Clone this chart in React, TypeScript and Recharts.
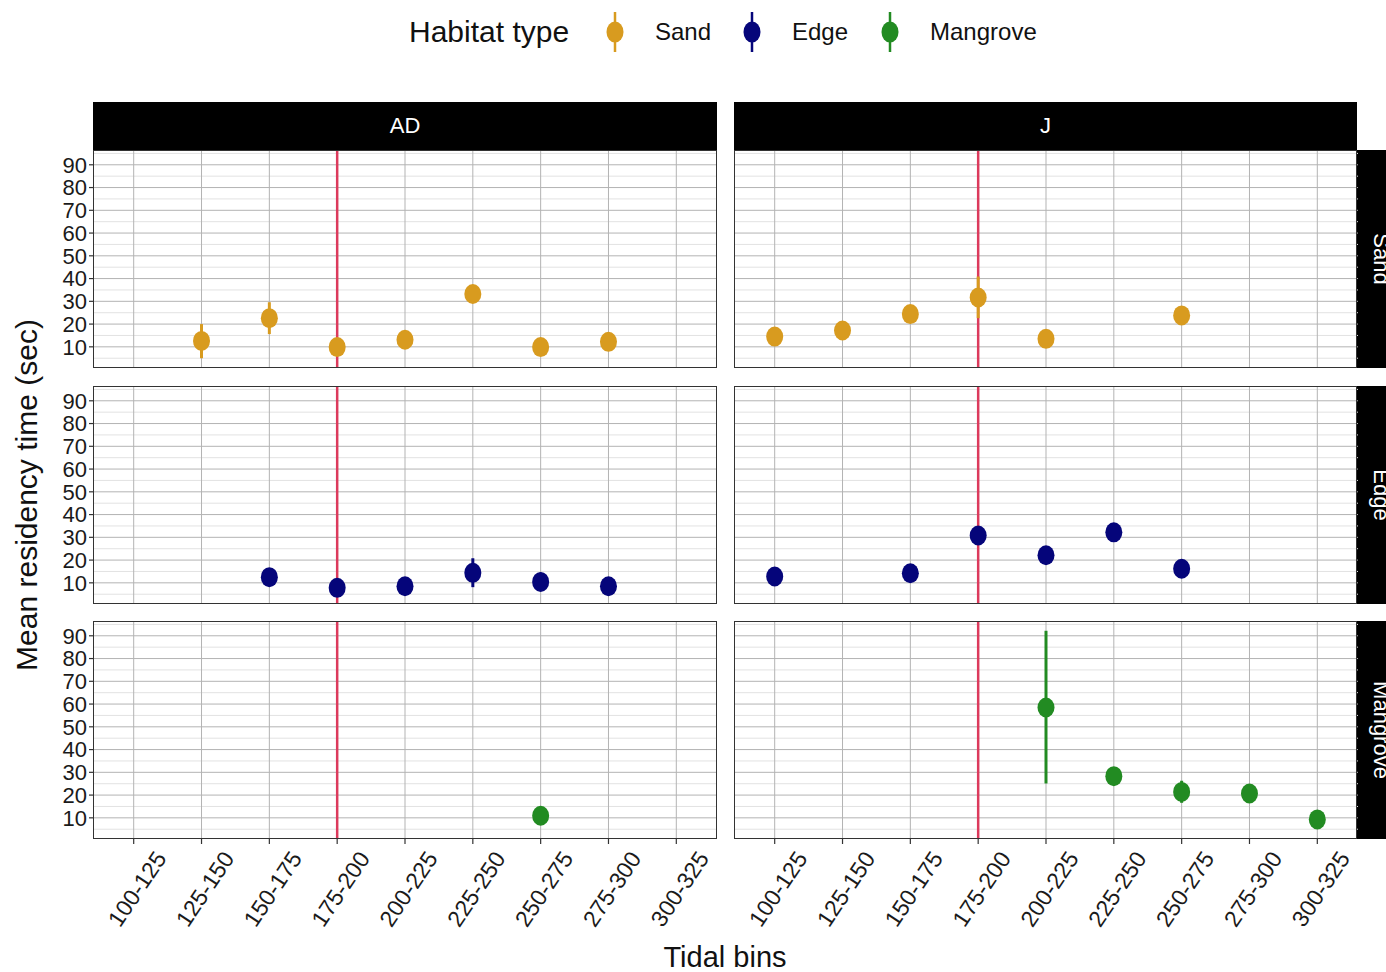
import React from 'react'
import { ScatterChart, Scatter, XAxis, YAxis, CartesianGrid, ErrorBar, ReferenceLine } from 'recharts'

const bins = ['100-125', '125-150', '150-175', '175-200', '200-225', '225-250', '250-275', '275-300', '300-325']
const yTicks = [10, 20, 30, 40, 50, 60, 70, 80, 90]
const yMinor = [5, 15, 25, 35, 45, 55, 65, 75, 85, 95]
const ageClasses = ['AD', 'J']
const habitats = ['Sand', 'Edge', 'Mangrove']

// mean residency per tidal bin (null = no data), plus lower / upper error bounds
const adSand = [null, 12.6, 22.6, 9.9, 13.1, 33.2, 9.9, 12.2, null]
const adSandLo = [null, 5, 15.6, 8, 10.5, 31, 8.5, 10.5, null]
const adSandHi = [null, 20, 29.6, 12, 15.5, 35.5, 11.3, 14, null]

const jSand = [14.5, 17.2, 24.4, 31.7, 13.5, null, 23.8, null, null]
const jSandLo = [13, 15.5, 22.5, 22.6, 12, null, 21.5, null, null]
const jSandHi = [16, 19, 26.5, 40.9, 15, null, 26, null, null]

const adEdge = [null, null, 12.5, 7.8, 8.5, 14.4, 10.4, 8.5, null]
const adEdgeLo = [null, null, 10.5, 6, 6.8, 8.1, 6.5, 6.8, null]
const adEdgeHi = [null, null, 14.5, 9.6, 10.2, 20.8, 14.5, 10.2, null]

const jEdge = [12.8, null, 14.2, 30.8, 22.1, 32.2, 16.2, null, null]
const jEdgeLo = [11, null, 12.3, 28.5, 20, 30, 14, null, null]
const jEdgeHi = [14.5, null, 16, 33, 24, 34.5, 18.5, null, null]

const adMangrove = [null, null, null, null, null, null, 10.9, null, null]
const adMangroveLo = [null, null, null, null, null, null, 9, null, null]
const adMangroveHi = [null, null, null, null, null, null, 12.8, null, null]

const jMangrove = [null, null, null, null, 58.5, 28.3, 21.4, 20.7, 9.3]
const jMangroveLo = [null, null, null, null, 25.1, 26, 16.6, 18.5, 7.5]
const jMangroveHi = [null, null, null, null, 92.2, 30.5, 26.3, 23, 11]

const colors: Record<string, string> = { Sand: '#d89b1f', Edge: '#05057a', Mangrove: '#228b22' }
const lineColor = '#dc3a5c'
const FONT = '"Liberation Sans", Arial, sans-serif'

type Row = (number | null)[]

function build(v: Row, lo: Row, hi: Row) {
  const out: { x: number; y: number; err: number[] }[] = []
  bins.forEach((_, i) => {
    const y = v[i]
    if (y == null) return
    out.push({ x: i + 1, y, err: [y - (lo[i] as number), (hi[i] as number) - y] })
  })
  return out
}

const panels: Record<string, ReturnType<typeof build>> = {
  'AD-Sand': build(adSand, adSandLo, adSandHi),
  'J-Sand': build(jSand, jSandLo, jSandHi),
  'AD-Edge': build(adEdge, adEdgeLo, adEdgeHi),
  'J-Edge': build(jEdge, jEdgeLo, jEdgeHi),
  'AD-Mangrove': build(adMangrove, adMangroveLo, adMangroveHi),
  'J-Mangrove': build(jMangrove, jMangroveLo, jMangroveHi),
}

const colLeft = [93, 734]
const colWidth = 624
const rowTop = [150, 386, 621]
const rowHeight = 218
const yAxisW = 50
const xAxisH = 110

function BinTick(props: any) {
  const { x, y, payload } = props
  return (
    <text
      transform={`translate(${x + 27},${y + 10}) rotate(-56)`}
      textAnchor="end"
      dominantBaseline="central"
      fontSize={23}
      fontFamily={FONT}
      fill="#1a1a1a"
    >
      {bins[payload.value - 1]}
    </text>
  )
}

function Panel({ col, row }: { col: number; row: number }) {
  const hab = habitats[row]
  const color = colors[hab]
  const data = panels[`${ageClasses[col]}-${hab}`]
  const showY = col === 0
  const showX = row === 2
  const w = colWidth + (showY ? yAxisW : 0)
  const h = rowHeight + (showX ? xAxisH : 0)
  return (
    <div style={{ position: 'absolute', left: colLeft[col] - (showY ? yAxisW : 0), top: rowTop[row] }}>
      <ScatterChart width={w} height={h} margin={{ top: 0, right: 0, bottom: 0, left: 0 }}>
        <CartesianGrid horizontalValues={yMinor} vertical={false} stroke="#e2e2e2" strokeWidth={1} />
        <CartesianGrid
          horizontalValues={yTicks}
          verticalValues={[1, 2, 3, 4, 5, 6, 7, 8, 9]}
          stroke="#b3b3b3"
          strokeWidth={1}
        />
        <XAxis
          type="number"
          dataKey="x"
          domain={[0.4, 9.6]}
          ticks={[1, 2, 3, 4, 5, 6, 7, 8, 9]}
          hide={!showX}
          height={xAxisH}
          axisLine={false}
          tickSize={5}
          tickMargin={0}
          tickLine={{ stroke: '#333', strokeWidth: 1.2 }}
          tick={<BinTick />}
          interval={0}
        />
        <YAxis
          type="number"
          dataKey="y"
          domain={[0.7, 96.5]}
          ticks={yTicks}
          hide={!showY}
          width={yAxisW}
          axisLine={false}
          tickSize={4}
          tickMargin={2}
          tickLine={{ stroke: '#333', strokeWidth: 1.2 }}
          tick={{ fontSize: 22, fill: '#1a1a1a', fontFamily: FONT }}
          interval={0}
        />
        <ReferenceLine x={4} stroke={lineColor} strokeWidth={2.5} />
        <Scatter
          data={data}
          dataKey="y"
          isAnimationActive={false}
          shape={(p: any) => <ellipse cx={p.cx} cy={p.cy} rx={8.5} ry={10} fill={color} />}
        >
          <ErrorBar dataKey="err" direction="y" width={0} stroke={color} strokeWidth={3} />
        </Scatter>
      </ScatterChart>
    </div>
  )
}

function LegendGlyph({ color }: { color: string }) {
  return (
    <svg width={20} height={40} style={{ display: 'block' }}>
      <line x1={10} x2={10} y1={0} y2={40} stroke={color} strokeWidth={2.5} />
      <ellipse cx={10} cy={20} rx={8.5} ry={10.5} fill={color} />
    </svg>
  )
}

export default function App() {
  const legendItems = [
    { name: 'Sand', glyph: 605, text: 655 },
    { name: 'Edge', glyph: 742, text: 792 },
    { name: 'Mangrove', glyph: 880, text: 930 },
  ]
  return (
    <div
      style={{
        position: 'absolute',
        left: 0,
        top: 0,
        width: 1386,
        height: 972,
        overflow: 'hidden',
        background: '#fff',
        fontFamily: FONT,
        color: '#111',
      }}
    >
      {/* legend */}
      <div style={{ position: 'absolute', left: 409, top: 13, fontSize: 30, lineHeight: '38px' }}>Habitat type</div>
      {legendItems.map((it) => (
        <React.Fragment key={it.name}>
          <div style={{ position: 'absolute', left: it.glyph, top: 12 }}>
            <LegendGlyph color={colors[it.name]} />
          </div>
          <div style={{ position: 'absolute', left: it.text, top: 16, fontSize: 24, lineHeight: '32px' }}>{it.name}</div>
        </React.Fragment>
      ))}

      {/* column strips */}
      {ageClasses.map((a, c) => (
        <div
          key={a}
          style={{
            position: 'absolute',
            left: colLeft[c],
            top: 102,
            width: c === 0 ? colWidth : colWidth - 1,
            height: 48,
            background: '#000',
            color: '#fff',
            fontSize: 22,
            display: 'flex',
            alignItems: 'center',
            justifyContent: 'center',
          }}
        >
          {a}
        </div>
      ))}

      {/* row strips */}
      {habitats.map((hb, r) => (
        <div
          key={hb}
          style={{
            position: 'absolute',
            left: 1357,
            top: rowTop[r],
            width: 48,
            height: rowHeight,
            background: '#000',
            color: '#fff',
            fontSize: 22,
            display: 'flex',
            alignItems: 'center',
            justifyContent: 'center',
          }}
        >
          <span style={{ transform: 'rotate(90deg)', whiteSpace: 'nowrap' }}>{hb}</span>
        </div>
      ))}

      {[0, 1, 2].map((r) => [0, 1].map((c) => <Panel key={`${r}-${c}`} col={c} row={r} />))}

      {/* panel borders */}
      {[0, 1, 2].map((r) =>
        [0, 1].map((c) => (
          <div
            key={`b${r}-${c}`}
            style={{
              position: 'absolute',
              left: colLeft[c],
              top: rowTop[r],
              width: c === 0 ? colWidth : colWidth - 1,
              height: rowHeight,
              border: '1.5px solid #333',
              boxSizing: 'border-box',
              pointerEvents: 'none',
            }}
          />
        ))
      )}

      {/* axis titles */}
      <div
        style={{
          position: 'absolute',
          left: 27,
          top: 495,
          fontSize: 30,
          whiteSpace: 'nowrap',
          transform: 'translate(-50%, -50%) rotate(-90deg)',
        }}
      >
        Mean residency time (sec)
      </div>
      <div
        style={{
          position: 'absolute',
          left: 725,
          top: 957,
          fontSize: 29,
          whiteSpace: 'nowrap',
          transform: 'translate(-50%, -50%)',
        }}
      >
        Tidal bins
      </div>
    </div>
  )
}
